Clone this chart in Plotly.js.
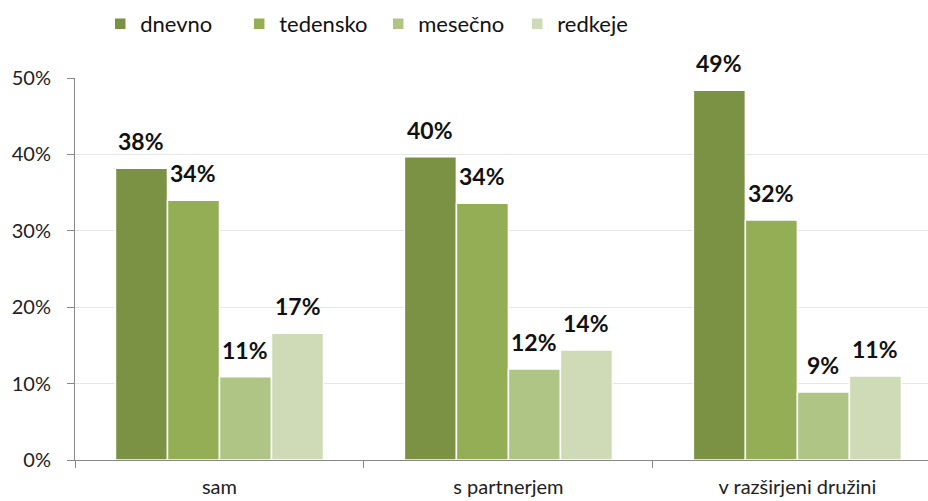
<!DOCTYPE html>
<html>
<head>
<meta charset="utf-8">
<script src="https://cdn.plot.ly/plotly-3.0.1.min.js"></script>
<style>html,body{margin:0;padding:0;background:#fff;}#chart{width:928px;height:501px;}</style>
</head>
<body>
<div id="chart"></div>
<script>
const categories = ["sam", "s partnerjem", "v razširjeni družini"];
const seriesNames = ["dnevno", "tedensko", "mesečno", "redkeje"];
const dnevno = [38.2, 39.7, 48.4];
const tedensko = [34.0, 33.6, 31.4];
const mesecno = [10.9, 11.9, 8.9];
const redkeje = [16.6, 14.4, 11.0];
const dnevnoLabels = ["38%", "40%", "49%"];
const tedenskoLabels = ["34%", "34%", "32%"];
const mesecnoLabels = ["11%", "12%", "9%"];
const redkejeLabels = ["17%", "14%", "11%"];
const colors = ["#7b9144", "#94ae56", "#afc586", "#cedbb6"];

const values = [dnevno, tedensko, mesecno, redkeje];
const labels = [dnevnoLabels, tedenskoLabels, mesecnoLabels, redkejeLabels];

const BARGAP = 0.28;
const nSeries = seriesNames.length;
const barW = (1 - BARGAP) / nSeries;

const traces = seriesNames.map((name, i) => ({
  type: "bar",
  name: name,
  x: categories,
  y: values[i],
  marker: {color: colors[i], line: {color: "#ffffff", width: 1.5}},
  hoverinfo: "skip"
}));

// data labels placed above each bar of the group, in axis coordinates
const annotations = [];
values.forEach((vals, i) => {
  const off = -(1 - BARGAP) / 2 + barW * (i + 0.5);
  vals.forEach((v, j) => {
    annotations.push({
      xref: "x", yref: "y",
      x: j + off, y: v,
      text: labels[i][j],
      showarrow: false,
      xanchor: "center", yanchor: "bottom",
      yshift: 11,
      font: {family: "Lato, 'Open Sans', sans-serif", size: 23, color: "#111", weight: "bold"}
    });
  });
});

const layout = {
  width: 928,
  height: 501,
  margin: {l: 75, r: 0, t: 78, b: 41, autoexpand: false},
  paper_bgcolor: "#ffffff",
  plot_bgcolor: "#ffffff",
  font: {family: "Lato, 'Open Sans', sans-serif", size: 20, color: "#222"},
  barmode: "group",
  bargap: BARGAP,
  bargroupgap: 0,
  showlegend: true,
  annotations: annotations,
  legend: {
    orientation: "h",
    xref: "container", yref: "container",
    x: 0.108, xanchor: "left",
    y: 0.952, yanchor: "middle",
    font: {size: 22, color: "#111"},
    entrywidth: 94, entrywidthmode: "pixels",
    traceorder: "normal"
  },
  xaxis: {
    type: "category",
    range: [-0.5, 2.452],
    tickson: "boundaries",
    ticks: "outside",
    ticklen: 7,
    tickcolor: "#888",
    showline: true,
    linecolor: "#888",
    linewidth: 1,
    showgrid: false,
    ticklabelstandoff: 9,
    tickfont: {size: 20, color: "#222"},
    automargin: false,
    fixedrange: true
  },
  yaxis: {
    range: [0, 50],
    dtick: 10,
    ticksuffix: "%",
    ticks: "outside",
    ticklen: 7,
    tickcolor: "#888",
    showline: true,
    linecolor: "#888",
    linewidth: 1,
    showgrid: true,
    gridcolor: "#e6e6e6",
    gridwidth: 1,
    zeroline: false,
    ticklabelstandoff: 12,
    tickfont: {size: 20, color: "#222"},
    automargin: false,
    fixedrange: true
  }
};

Plotly.newPlot("chart", traces, layout, {displayModeBar: false, staticPlot: true});
</script>
</body>
</html>
